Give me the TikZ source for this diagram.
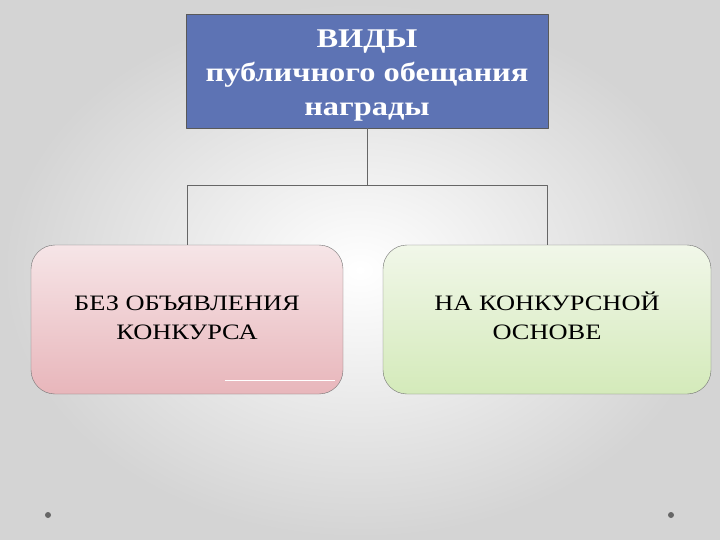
\documentclass[tikz,border=0pt]{standalone}
\usepackage{fontspec}
\setmainfont{Liberation Serif}[FakeStretch=1.2]
\usetikzlibrary{positioning,calc}
\definecolor{vidblue}{RGB}{93,115,180}
\definecolor{pinktop}{RGB}{246,229,231}
\definecolor{pinkbot}{RGB}{232,182,187}
\definecolor{greentop}{RGB}{241,247,233}
\definecolor{greenbot}{RGB}{212,234,186}

\begin{document}
\begin{tikzpicture}[x=1pt,y=-1pt,line join=round,
  head/.style={draw=black!65,fill=vidblue,text=white,minimum width=362,minimum height=114,align=center,font=\fontsize{27}{34}\selectfont\bfseries},
  kind/.style={draw=black!55,rounded corners=24,minimum width=312,minimum height=149,align=center,font=\fontsize{22}{29}\selectfont},
  link/.style={draw=black!60,thin}]
\shade[inner color=white,outer color=black!17] (0,0) rectangle (720,540);
\useasboundingbox (0,0) rectangle (720,540);
\node[head] (V) at (367,71) {\rule{0pt}{27pt}ВИДЫ\\публичного обещания\\награды};
\node[kind,top color=pinktop,bottom color=pinkbot] (L) at (187,319.5) {БЕЗ ОБЪЯВЛЕНИЯ\vphantom{Й}\\КОНКУРСА\rule[-8pt]{0pt}{0pt}};
\node[kind,top color=greentop,bottom color=greenbot,minimum width=328] (R) at (547,319.5) {НА КОНКУРСНОЙ\\ОСНОВЕ\rule[-8pt]{0pt}{0pt}};
\coordinate (M) at ($(V.south)+(0,57)$);
\draw[link] (V.south)--(M) (M)-|(L.north) (M)-|(R.north);
\draw[white,thin] (225,380)--(335,380);
\foreach \p in {(48,515),(671,515)}{\fill[black!60] \p circle (3);}
\end{tikzpicture}
\end{document}
